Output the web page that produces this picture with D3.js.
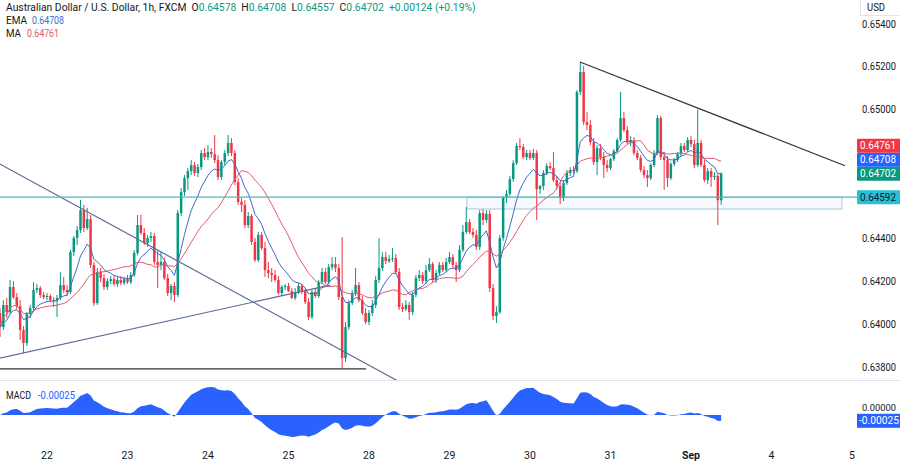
<!DOCTYPE html>
<html><head><meta charset="utf-8">
<script src="https://cdn.jsdelivr.net/npm/d3@7"></script>
<style>
html,body{margin:0;padding:0;background:#fff;}
svg{display:block;font-family:Roboto,"Noto Sans",sans-serif;}
</style></head><body>
<svg id="c" width="900" height="461"></svg>
<script>
// ---------- DATA (AUD/USD 1h, FXCM) ----------
const opens = [0.64052,
0.63986,0.64089,0.64056,0.64173,0.64126,0.64084,0.63973,0.63912,0.64047,0.64075,
0.64159,0.64168,0.64136,0.64126,0.64131,0.64112,0.64108,0.64122,0.64182,0.64159,
0.64150,0.64336,0.64402,0.64439,0.64532,0.64448,0.64490,0.64276,0.64098,0.64243,
0.64215,0.64173,0.64201,0.64210,0.64187,0.64206,0.64192,0.64210,0.64196,0.64229,
0.64332,0.64462,0.64425,0.64378,0.64402,0.64411,0.64290,0.64276,0.64290,0.64215,
0.64145,0.64178,0.64136,0.64518,0.64616,0.64681,0.64714,0.64742,0.64705,0.64733,
0.64798,0.64779,0.64803,0.64793,0.64765,0.64686,0.64756,0.64798,0.64845,0.64798,
0.64663,0.64570,0.64556,0.64462,0.64504,0.64383,0.64299,0.64416,0.64355,0.64252,
0.64238,0.64229,0.64206,0.64145,0.64173,0.64178,0.64154,0.64122,0.64150,0.64178,
0.64154,0.64103,0.64033,0.64150,0.64131,0.64196,0.64243,0.64196,0.64266,0.64280,
0.64262,0.64126,0.63842,0.63986,0.64098,0.64145,0.64182,0.64112,0.64052,0.64010,
0.64052,0.64089,0.64206,0.64262,0.64313,0.64294,0.64304,0.64308,0.64243,0.64080,
0.64070,0.64089,0.64056,0.64136,0.64215,0.64229,0.64201,0.64252,0.64280,0.64206,
0.64238,0.64276,0.64252,0.64290,0.64313,0.64276,0.64252,0.64346,0.64430,0.64476,
0.64430,0.64416,0.64360,0.64518,0.64486,0.64514,0.64168,0.64038,0.64056,0.64402,
0.64588,0.64607,0.64677,0.64751,0.64831,0.64826,0.64779,0.64798,0.64775,0.64798,
0.64630,0.64644,0.64705,0.64737,0.64728,0.64672,0.64644,0.64588,0.64658,0.64705,
0.64719,0.64714,0.65083,0.65176,0.64943,0.64929,0.64849,0.64756,0.64821,0.64779,
0.64742,0.64728,0.64770,0.64807,0.64859,0.64961,0.64905,0.64849,0.64859,0.64798,
0.64775,0.64719,0.64695,0.64681,0.64742,0.64798,0.64961,0.64779,0.64765,0.64681,
0.64747,0.64765,0.64793,0.64831,0.64812,0.64859,0.64840,0.64742,0.64845,0.64742,
0.64672,0.64714,0.64686,0.64691,0.64578];

const highs = [
0.64075,0.64112,0.64122,0.64206,0.64201,0.64145,0.64112,0.63991,0.64056,0.64089,
0.64196,0.64187,0.64178,0.64150,0.64145,0.64140,0.64126,0.64136,0.64243,0.64220,
0.64182,0.64346,0.64411,0.64458,0.64579,0.64556,0.64542,0.64509,0.64290,0.64262,
0.64262,0.64234,0.64215,0.64224,0.64224,0.64224,0.64224,0.64220,0.64229,0.64243,
0.64346,0.64509,0.64509,0.64448,0.64416,0.64430,0.64425,0.64346,0.64336,0.64308,
0.64234,0.64187,0.64196,0.64532,0.64635,0.64695,0.64728,0.64765,0.64756,0.64747,
0.64812,0.64821,0.64835,0.64821,0.64882,0.64789,0.64765,0.64812,0.64882,0.64868,
0.64812,0.64681,0.64588,0.64579,0.64523,0.64514,0.64402,0.64430,0.64430,0.64383,
0.64290,0.64262,0.64252,0.64224,0.64182,0.64187,0.64192,0.64168,0.64168,0.64192,
0.64187,0.64168,0.64122,0.64159,0.64164,0.64206,0.64262,0.64262,0.64280,0.64313,
0.64313,0.64280,0.64406,0.64010,0.64112,0.64159,0.64262,0.64196,0.64131,0.64075,
0.64066,0.64112,0.64224,0.64402,0.64336,0.64336,0.64322,0.64355,0.64327,0.64262,
0.64098,0.64112,0.64103,0.64150,0.64229,0.64252,0.64243,0.64276,0.64308,0.64290,
0.64252,0.64290,0.64290,0.64308,0.64336,0.64327,0.64290,0.64369,0.64462,0.64546,
0.64490,0.64448,0.64439,0.64532,0.64537,0.64532,0.64532,0.64187,0.64084,0.64416,
0.64598,0.64626,0.64691,0.64765,0.64845,0.64868,0.64840,0.64812,0.64812,0.64817,
0.64812,0.64649,0.64719,0.64751,0.64756,0.64803,0.64691,0.64663,0.64672,0.64719,
0.64733,0.64737,0.65092,0.65223,0.65204,0.64989,0.64952,0.64868,0.64835,0.64840,
0.64803,0.64765,0.64775,0.64817,0.64868,0.65083,0.64989,0.64924,0.64877,0.64873,
0.64812,0.64789,0.64737,0.64719,0.64751,0.64812,0.64975,0.64971,0.64803,0.64784,
0.64756,0.64775,0.64803,0.64845,0.64845,0.64873,0.64877,0.64859,0.65001,0.64859,
0.64765,0.64728,0.64728,0.64709,0.64700,0.64708];

const lows = [
0.63940,0.63973,0.64028,0.64047,0.64117,0.64070,0.63926,0.63865,0.63898,0.64028,
0.64066,0.64145,0.64122,0.64117,0.64112,0.64103,0.64080,0.64033,0.64112,0.64145,
0.64131,0.64140,0.64318,0.64369,0.64425,0.64430,0.64439,0.64262,0.64084,0.64089,
0.64196,0.64159,0.64159,0.64187,0.64178,0.64173,0.64182,0.64182,0.64187,0.64187,
0.64220,0.64322,0.64416,0.64369,0.64360,0.64383,0.64276,0.64168,0.64252,0.64206,
0.64131,0.64112,0.64103,0.64126,0.64504,0.64598,0.64626,0.64695,0.64691,0.64686,
0.64719,0.64765,0.64765,0.64775,0.64751,0.64672,0.64672,0.64742,0.64784,0.64784,
0.64649,0.64556,0.64523,0.64448,0.64448,0.64369,0.64290,0.64290,0.64346,0.64220,
0.64215,0.64196,0.64196,0.64136,0.64131,0.64159,0.64150,0.64117,0.64112,0.64140,
0.64140,0.64094,0.64019,0.64024,0.64122,0.64122,0.64187,0.64187,0.64187,0.64252,
0.64243,0.64112,0.63795,0.63823,0.63973,0.64089,0.64131,0.64103,0.64042,0.64000,
0.63996,0.64038,0.64075,0.64192,0.64248,0.64280,0.64285,0.64290,0.64234,0.64066,
0.64056,0.64061,0.64019,0.64042,0.64126,0.64201,0.64187,0.64187,0.64243,0.64196,
0.64192,0.64229,0.64243,0.64243,0.64280,0.64262,0.64196,0.64243,0.64336,0.64420,
0.64420,0.64402,0.64346,0.64346,0.64462,0.64472,0.64150,0.64019,0.64005,0.64047,
0.64388,0.64565,0.64598,0.64663,0.64742,0.64812,0.64770,0.64765,0.64765,0.64765,
0.64486,0.64607,0.64626,0.64695,0.64719,0.64663,0.64626,0.64560,0.64574,0.64649,
0.64691,0.64700,0.64705,0.65069,0.64929,0.64905,0.64835,0.64742,0.64695,0.64765,
0.64681,0.64709,0.64719,0.64761,0.64798,0.64849,0.64896,0.64840,0.64831,0.64789,
0.64765,0.64709,0.64681,0.64640,0.64672,0.64733,0.64789,0.64765,0.64626,0.64640,
0.64672,0.64737,0.64756,0.64784,0.64803,0.64803,0.64826,0.64728,0.64733,0.64733,
0.64663,0.64654,0.64640,0.64672,0.64462,0.64557];

const closes = [
0.63986,0.64089,0.64056,0.64173,0.64126,0.64084,0.63973,0.63912,0.64047,0.64075,
0.64159,0.64168,0.64136,0.64126,0.64131,0.64112,0.64108,0.64122,0.64182,0.64159,
0.64150,0.64336,0.64402,0.64439,0.64532,0.64448,0.64490,0.64276,0.64098,0.64243,
0.64215,0.64173,0.64201,0.64210,0.64187,0.64206,0.64192,0.64210,0.64196,0.64229,
0.64332,0.64462,0.64425,0.64378,0.64402,0.64411,0.64290,0.64276,0.64290,0.64215,
0.64145,0.64178,0.64136,0.64518,0.64616,0.64681,0.64714,0.64742,0.64705,0.64733,
0.64798,0.64779,0.64803,0.64793,0.64765,0.64686,0.64756,0.64798,0.64845,0.64798,
0.64663,0.64570,0.64556,0.64462,0.64504,0.64383,0.64299,0.64416,0.64355,0.64252,
0.64238,0.64229,0.64206,0.64145,0.64173,0.64178,0.64154,0.64122,0.64150,0.64178,
0.64154,0.64103,0.64033,0.64150,0.64131,0.64196,0.64243,0.64196,0.64266,0.64280,
0.64262,0.64126,0.63842,0.63986,0.64098,0.64145,0.64182,0.64112,0.64052,0.64010,
0.64052,0.64089,0.64206,0.64262,0.64313,0.64294,0.64304,0.64308,0.64243,0.64080,
0.64070,0.64089,0.64056,0.64136,0.64215,0.64229,0.64201,0.64252,0.64280,0.64206,
0.64238,0.64276,0.64252,0.64290,0.64313,0.64276,0.64252,0.64346,0.64430,0.64476,
0.64430,0.64416,0.64360,0.64518,0.64486,0.64514,0.64168,0.64038,0.64056,0.64402,
0.64588,0.64607,0.64677,0.64751,0.64831,0.64826,0.64779,0.64798,0.64775,0.64798,
0.64630,0.64644,0.64705,0.64737,0.64728,0.64672,0.64644,0.64588,0.64658,0.64705,
0.64719,0.64714,0.65083,0.65176,0.64943,0.64929,0.64849,0.64756,0.64821,0.64779,
0.64742,0.64728,0.64770,0.64807,0.64859,0.64961,0.64905,0.64849,0.64859,0.64798,
0.64775,0.64719,0.64695,0.64681,0.64742,0.64798,0.64961,0.64779,0.64765,0.64681,
0.64747,0.64765,0.64793,0.64831,0.64812,0.64859,0.64840,0.64742,0.64845,0.64742,
0.64672,0.64714,0.64686,0.64691,0.64578,0.64702];

// time axis: candle index of each day start
const dayIndex  = [14, 38, 62, 86, 110, 134, 158, 182, 206, 230, 254];
const dayLabels = ["22","23","24","25","28","29","30","31","Sep","4","5"];

const priceTicks = [0.654, 0.652, 0.650, 0.648, 0.646, 0.644, 0.642, 0.640, 0.638];

// drawings: [candle index, price]
const fallingLine   = [[-0.9, 0.64754], [120.7, 0.63717]];
const risingLine    = [[-1, 0.63838], [98.4, 0.64182]];
const supportLine   = [[-1, 0.63791], [109.1, 0.63791]];
const resistLine    = [[172.9, 0.65223], [251.9, 0.64739]];
const levelPrice    = 0.64592;
const zone          = {i0: 139.2, i1: 251.0, p0: 0.64537, p1: 0.64592};

// legend / markers text
const titleText = "Australian Dollar / U.S. Dollar, 1h, FXCM";
const ohlcKeys  = ["O","H","L","C"];
const ohlcVals  = ["0.64578","0.64708","0.64557","0.64702"];
const changeText = "+0.00124 (+0.19%)";
const emaValue = "0.64708", maValue = "0.64761", macdValue = "-0.00025";
const markers = [
  {v: 0.64761, t: "0.64761", k: "ma"},
  {v: 0.64708, t: "0.64708", k: "ema"},
  {v: 0.64702, t: "0.64702", k: "last"},
  {v: 0.64592, t: "0.64592", k: "level"}
];

// ---------- STYLE ----------
const C = {up:"#089981", down:"#f23645", ema:"#4169c9", ma:"#e05a68", text:"#131722",
  trend:"#5a6c97", black:"#333333", level:"#50b8c8", macd:"#2962ff",
  mk:{ma:"#f23645", ema:"#2962ff", last:"#089981", level:"#26c1d6"}};
const FS = 10.5;
const NB = "\u00a0";

const svg = d3.select("#c");
const W = 900, plotR = 852, paneB = 380;
const x = d3.scaleLinear().domain([0, 254]).range([0, 852]);
const y = d3.scaleLinear().domain([0.638, 0.654]).range([367, 24]);

svg.append("rect").attr("width",W).attr("height",461).attr("fill","#fff");
const defs = svg.append("defs");
defs.append("clipPath").attr("id","cp").append("rect").attr("x",0).attr("y",0).attr("width",plotR).attr("height",paneB);
defs.append("clipPath").attr("id","cm").append("rect").attr("x",0).attr("y",paneB+1).attr("width",plotR).attr("height",60);

// indicators
function emaCalc(a, n){const k=2/(n+1); let e=a[0]; return a.map((v,i)=> i===0 ? e : (e = v*k + e*(1-k)));}
function smaCalc(a, n){return a.map((v,i)=> d3.mean(a.slice(Math.max(0,i-n+1), i+1)));}
const ema9 = emaCalc(closes, 9);
const ma20 = smaCalc(closes, 20);
const e12 = emaCalc(closes, 12), e26 = emaCalc(closes, 26);
const macd = closes.map((c,i)=> e12[i]-e26[i]);

const pane = svg.append("g").attr("clip-path","url(#cp)");

// zone & level
pane.append("rect").attr("x", x(zone.i0)).attr("y", y(zone.p1))
  .attr("width", x(zone.i1)-x(zone.i0)).attr("height", y(zone.p0)-y(zone.p1))
  .attr("fill","rgba(33,150,243,0.05)").attr("stroke","#aac6dd").attr("stroke-width",1);
svg.append("line").attr("x1",0).attr("x2",858).attr("y1",y(levelPrice)).attr("y2",y(levelPrice))
  .attr("stroke",C.level).attr("stroke-width",1.2);

// candles
const idx = d3.range(closes.length);
const cg = pane.append("g");
cg.selectAll("line.w").data(idx).join("line").attr("class","w")
  .attr("x1",i=>x(i)).attr("x2",i=>x(i)).attr("y1",i=>y(highs[i])).attr("y2",i=>y(lows[i]))
  .attr("stroke",i=> closes[i]>=opens[i]?C.up:C.down).attr("stroke-width",1);
cg.selectAll("rect.b").data(idx).join("rect").attr("class","b")
  .attr("x",i=>x(i)-1.25).attr("width",2.5)
  .attr("y",i=>y(Math.max(opens[i],closes[i])))
  .attr("height",i=>Math.max(1, Math.abs(y(opens[i])-y(closes[i]))))
  .attr("fill",i=> closes[i]>=opens[i]?C.up:C.down);

// moving averages
const ln = d3.line().x((d,i)=>x(i)).y(d=>y(d));
pane.append("path").attr("d",ln(ma20)).attr("fill","none").attr("stroke",C.ma).attr("stroke-width",1);
pane.append("path").attr("d",ln(ema9)).attr("fill","none").attr("stroke",C.ema).attr("stroke-width",1);

// trend lines
const tl = d3.line().x(d=>x(d[0])).y(d=>y(d[1]));
[[fallingLine,C.trend],[risingLine,C.trend],[supportLine,C.black],[resistLine,C.black]].forEach(([p,c])=>{
  pane.append("path").attr("d",tl(p)).attr("fill","none").attr("stroke",c).attr("stroke-width",1.2);
});

// pane separator
svg.append("line").attr("x1",0).attr("x2",W).attr("y1",paneB+0.5).attr("y2",paneB+0.5).attr("stroke","#e0e3eb");

// ---------- MACD pane ----------
const ext = d3.extent(macd);
const m = d3.scaleLinear().domain(ext).range([437, 387]);
const ar = d3.area().x((d,i)=>x(i)).y0(m(0)).y1(d=>m(d));
svg.append("g").attr("clip-path","url(#cm)").append("path").attr("d",ar(macd)).attr("fill",C.macd);

// ---------- TEXT ----------
function txt(s, xx, yy, opt={}){
  const t = svg.append("text").attr("x",xx).attr("y",yy).attr("dominant-baseline","central")
    .attr("font-size",opt.fs||FS).attr("fill",opt.fill||C.text).text(s);
  if(opt.w){t.attr("textLength",opt.w).attr("lengthAdjust","spacingAndGlyphs");}
  if(opt.anchor) t.attr("text-anchor",opt.anchor);
  if(opt.bold) t.attr("font-weight","bold");
  return t;
}
// legend title: one text element with coloured spans, fitted by a horizontal scale
const tg = svg.append("g");
const tt = tg.append("text").attr("x",0).attr("y",0).attr("dominant-baseline","central")
  .attr("font-size",FS).attr("fill",C.text);
tt.append("tspan").text(titleText);
ohlcKeys.forEach((k,i)=>{
  tt.append("tspan").text(NB + NB + k);
  tt.append("tspan").attr("fill",C.up).text(ohlcVals[i]);
});
tt.append("tspan").attr("fill",C.up).text(NB + NB + changeText);
const natW = tt.node().getComputedTextLength();
tg.attr("transform", `translate(6,6.5) scale(${470/natW},1)`);

txt("EMA", 6, 20.3, {w:21}); txt(emaValue, 32, 20.3, {fill:C.ema, w:32});
txt("MA", 6, 33.5, {w:15}); txt(maValue, 27, 33.5, {fill:C.ma, w:32});
txt("MACD", 6, 395, {w:25}); txt(macdValue, 38, 395, {fill:C.macd, w:37});

// price markers (stacked from bottom)
const mk = markers.map(d=>({...d, ny:y(d.v)})).sort((a,b)=>b.ny-a.ny);
let prev = Infinity;
mk.forEach(d=>{ d.py = Math.min(d.ny, prev-14); prev = d.py; });

// price ticks
priceTicks.forEach(p=>{
  const yy = y(p);
  if(mk.some(d=>Math.abs(d.py-yy)<12)) return;
  txt(p.toFixed(5), 862, yy, {w:34});
});
mk.forEach(d=>{
  svg.append("rect").attr("x",857).attr("y",d.py-7).attr("width",44).attr("height",14).attr("fill",C.mk[d.k]).attr("rx",1);
  txt(d.t, 860, d.py, {fill: d.k==="level"?C.text:"#fff", w:36});
});

// MACD axis: zero tick just above the last-value tag
const lastM = m(macd[macd.length-1]);
txt("0.00000", 862, Math.min(m(0), lastM-13), {w:34, fs:9.5});
svg.append("rect").attr("x",857).attr("y",lastM-7).attr("width",44).attr("height",14).attr("fill",C.macd);
txt(macdValue, 859, lastM, {fill:"#fff", w:40});

// USD box
svg.append("rect").attr("x",860.5).attr("y",-1).attr("width",41).attr("height",16.5).attr("fill","#fff").attr("stroke","#e0e3eb");
txt("USD", 867, 7, {w:18});

// time axis
dayLabels.forEach((l,i)=>{
  txt(l, x(dayIndex[i]), 455, {anchor:"middle", bold: l==="Sep"});
});
</script>
</body></html>
